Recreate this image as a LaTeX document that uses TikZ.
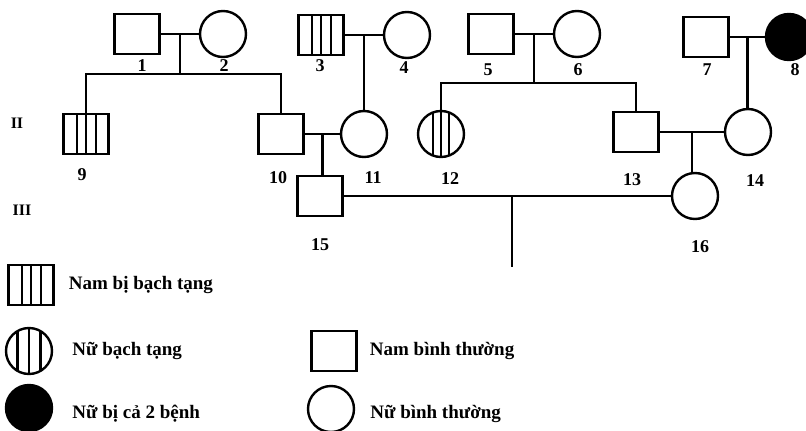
\documentclass[tikz,border=0pt]{standalone}
\usepackage{fontspec}
\setmainfont{Liberation Serif}
\usetikzlibrary{positioning,calc}

\tikzset{
  male/.style={draw,rectangle,minimum width=45pt,minimum height=40pt,inner sep=0pt},
  female/.style={draw,circle,minimum size=46pt,inner sep=0pt},
  stripes/.style={path picture={\foreach \f in {#1}
      \draw ($(path picture bounding box.south west)!\f!(path picture bounding box.south east)$) --
            ($(path picture bounding box.north west)!\f!(path picture bounding box.north east)$);}},
  num/.style={font=\fontsize{18}{20}\selectfont\bfseries,inner sep=0pt},
  gen/.style={font=\fontsize{16}{18}\selectfont\bfseries,inner sep=0pt},
  legtext/.style={font=\fontsize{19}{22}\selectfont\bfseries,inner sep=0pt}
}

\begin{document}
\begin{tikzpicture}[x=1pt,y=-1pt,line width=2.4pt,node distance=86pt]
\useasboundingbox (0,0) rectangle (806,431);

% generation I
\node[male](1) at (137,34){};
\node[female](2)[right of=1]{};
\node[male,stripes={0.3,0.5,0.72}](3) at (321,35){};
\node[female](4)[right of=3]{};
\node[male](5) at (491,34){};
\node[female](6)[right of=5]{};
\node[male](7) at (706,37){};
\node[female,fill=black](8) at (789,37){};

% generation II
\node[male,stripes={0.3,0.5,0.72}](9) at (86,134){};
\node[male](10) at (281,134){};
\node[female](11) at (364,134){};
\node[female,stripes={0.33,0.5,0.67}](12) at (441,134){};
\node[male](13) at (636,132){};
\node[female](14) at (748,132){};

% generation III
\node[male](15) at (320,196){};
\node[female](16) at (695,196){};

% numbers
\node[num](n1) at (142,66){1};
\node[num](n2) at (224,66){2};
\node[num](n3) at (320,66){3};
\node[num](n4) at (404,68){4};
\node[num](n5) at (488,70){5};
\node[num](n6) at (578,70){6};
\node[num](n7) at (707,70){7};
\node[num](n8) at (795,70){8};
\node[num](n9) at (82,175){9};
\node[num](n10) at (278,178){10};
\node[num](n11) at (373,178){11};
\node[num](n12) at (450,179){12};
\node[num](n13) at (632,180){13};
\node[num](n14) at (755,181){14};
\node[num](n15) at (320,245){15};
\node[num](n16) at (700,247){16};

\node[gen](g2) at (17,123){II};
\node[gen](g3) at (22,210){III};

% couples and children
\coordinate(m12) at ($(1)!.5!(2)$);
\coordinate(m34) at ($(3)!.5!(4)$);
\coordinate(m56) at ($(5)!.5!(6)$);
\coordinate(m78) at ($(7)!.5!(8)$);
\coordinate(m1011) at ($(10)!.5!(11)$);
\coordinate(m1314) at ($(13)!.5!(14)$);
\coordinate(k12) at (180,74);
\coordinate(k56) at (534,83);
\coordinate(k1516) at (512,267);

\draw(1)--(2) (3)--(4) (5)--(6) (7)--(8) (10)--(11) (13)--(14) (15)--(16);
\draw(m12)--(k12) (9.north)|-(k12)-|(10.north);
\draw(m56)--(k56) (12.north)|-(k56)-|(13.north);
\draw(m34)--(11);
\draw(m78)--(m78|-14.north);
\draw(m1011)--(m1011|-15.north);
\draw(m1314)--(m1314|-16.north);
\draw(k1516|-15)--(k1516);

% legend
\node[male,stripes={0.3,0.5,0.72}](l1) at (31,285){};
\node[legtext,right=13pt of l1](t1){Nam bị bạch tạng};
\node[female,stripes={0.25,0.5,0.75}](l2) at (29,351){};
\node[legtext,right=18pt of l2](t2){Nữ bạch tạng};
\node[female,fill=black](l3) at (29,408){};
\node[legtext,right=18pt of l3,yshift=-6pt](t3){Nữ bị cả 2 bệnh};
\node[male](l4) at (334,351){};
\node[legtext,right=11pt of l4](t4){Nam bình thường};
\node[female](l5) at (331,409){};
\node[legtext,right=14pt of l5,yshift=-5pt](t5){Nữ bình thường};

\end{tikzpicture}
\end{document}
